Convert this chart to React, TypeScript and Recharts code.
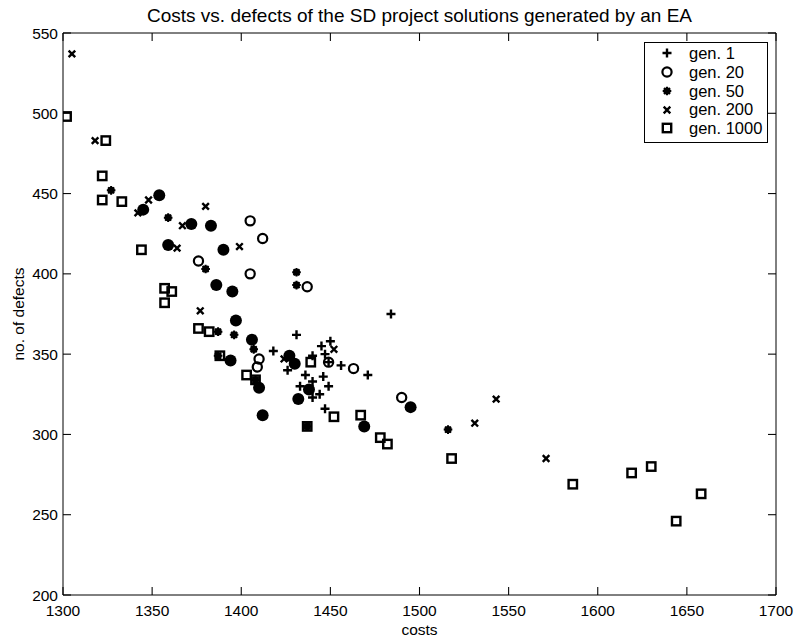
import { ScatterChart, Scatter, XAxis, YAxis, ReferenceArea } from "recharts";

const W = 797;
const H = 644;
const FONT = "'Liberation Sans', Arial, sans-serif";

const xDomain = [1300, 1700];
const yDomain = [200, 550];
const xTicks = [1300, 1350, 1400, 1450, 1500, 1550, 1600, 1650, 1700];
const yTicks = [200, 250, 300, 350, 400, 450, 500, 550];

// [costs, defects]
const gen1 = [
  [1484, 375], [1431, 362], [1418, 352], [1450, 358], [1445, 355], [1447, 350],
  [1440, 349], [1426, 340], [1436, 337], [1446, 336], [1433, 330], [1440, 333],
  [1449, 330], [1444, 325], [1440, 323], [1447, 316], [1456, 343], [1471, 337],
  [1449, 345],
];
const gen20 = [
  [1405, 433], [1412, 422], [1376, 408], [1405, 400], [1437, 392], [1410, 347],
  [1409, 342], [1449, 345], [1463, 341], [1490, 323],
];
const gen50 = [
  [1327, 452], [1359, 435], [1380, 403], [1431, 401], [1431, 393], [1387, 364],
  [1396, 362], [1407, 353], [1516, 303], [1387, 349], [1437, 305], [1408, 334],
];
// gen. 20 and gen. 50 on the same spot, shows as a filled disc
const gen20and50 = [
  [1354, 449], [1345, 440], [1372, 431], [1383, 430], [1359, 418], [1390, 415],
  [1386, 393], [1395, 389], [1397, 371], [1406, 359], [1394, 346], [1410, 329],
  [1412, 312], [1427, 349], [1430, 344], [1438, 328], [1432, 322], [1469, 305],
  [1495, 317],
];
const gen200 = [
  [1305, 537], [1318, 483], [1342, 438], [1348, 446], [1367, 430], [1380, 442],
  [1364, 416], [1399, 417], [1377, 377], [1424, 347], [1452, 353], [1543, 322],
  [1531, 307], [1571, 285],
];
const gen1000 = [
  [1302, 498], [1324, 483], [1322, 461], [1322, 446], [1333, 445], [1344, 415],
  [1357, 391], [1361, 389], [1357, 382], [1376, 366], [1382, 364], [1388, 349],
  [1403, 337], [1408, 334], [1439, 345], [1452, 311], [1437, 305], [1467, 312],
  [1478, 298], [1482, 294], [1518, 285], [1586, 269], [1619, 276], [1630, 280],
  [1644, 246], [1658, 263],
];

const pts = (a: number[][]) => a.map(([x, y]) => ({ x, y }));

// tick mark size in data units (about 8 px long, 1 px wide)
const TL_X = 4.5;
const TL_Y = 5;
const TW_X = 0.3;
const TW_Y = 0.33;

type P = { cx?: number; cy?: number };

const Plus = ({ cx = 0, cy = 0 }: P) => (
  <path d={`M${cx - 4.5},${cy}H${cx + 4.5}M${cx},${cy - 4.5}V${cy + 4.5}`} stroke="#000" strokeWidth={2.4} />
);
const Ring = ({ cx = 0, cy = 0 }: P) => (
  <circle cx={cx} cy={cy} r={4.6} fill="none" stroke="#000" strokeWidth={2.2} />
);
const Star = ({ cx = 0, cy = 0 }: P) => (
  <g stroke="#000" strokeWidth={2}>
    <path d={`M${cx - 4.3},${cy}H${cx + 4.3}M${cx},${cy - 4.3}V${cy + 4.3}`} />
    <path d={`M${cx - 3},${cy - 3}L${cx + 3},${cy + 3}M${cx - 3},${cy + 3}L${cx + 3},${cy - 3}`} />
    <circle cx={cx} cy={cy} r={2.6} fill="#000" />
  </g>
);
const Disc = ({ cx = 0, cy = 0 }: P) => <circle cx={cx} cy={cy} r={6} fill="#000" />;
const Cross = ({ cx = 0, cy = 0 }: P) => (
  <path
    d={`M${cx - 3.3},${cy - 3.3}L${cx + 3.3},${cy + 3.3}M${cx - 3.3},${cy + 3.3}L${cx + 3.3},${cy - 3.3}`}
    stroke="#000"
    strokeWidth={2.4}
  />
);
const Box = ({ cx = 0, cy = 0 }: P) => (
  <rect x={cx - 4.2} y={cy - 4.2} width={8.4} height={8.4} fill="none" stroke="#000" strokeWidth={2.4} />
);

const legendItems = [
  { name: "gen. 1", Shape: Plus },
  { name: "gen. 20", Shape: Ring },
  { name: "gen. 50", Shape: Star },
  { name: "gen. 200", Shape: Cross },
  { name: "gen. 1000", Shape: Box },
];

const LegendBox = () => (
  <div
    style={{
      position: "absolute",
      left: 644,
      top: 42,
      width: 122,
      padding: "1px 0 4px",
      border: "1px solid #000",
      background: "#fff",
      fontFamily: FONT,
      fontSize: 16.5,
      lineHeight: 1,
      color: "#000",
    }}
  >
    {legendItems.map(({ name, Shape }) => (
      <div key={name} style={{ display: "flex", alignItems: "center", height: 18.75 }}>
        <svg width={44} height={18} style={{ flex: "none" }}>
          <Shape cx={22} cy={9} />
        </svg>
        <span>{name}</span>
      </div>
    ))}
  </div>
);

const tickStyle = { fontFamily: FONT, fontSize: 15.5, fill: "#000" };

const mark = (key: string, x1: number, x2: number, y1: number, y2: number) => (
  <ReferenceArea
    key={key}
    x1={x1}
    x2={x2}
    y1={y1}
    y2={y2}
    ifOverflow="visible"
    fill="#000"
    fillOpacity={1}
    stroke="none"
  />
);

export default function App() {
  return (
    <div style={{ position: "absolute", left: 0, top: 0, width: W, height: H, background: "#fff" }}>
      <div
        style={{
          position: "absolute",
          left: 63,
          width: 713,
          top: 6,
          textAlign: "center",
          fontFamily: FONT,
          fontSize: 19,
          lineHeight: 1,
          color: "#000",
          whiteSpace: "nowrap",
        }}
      >
        Costs vs. defects of the SD project solutions generated by an EA
      </div>
      <ScatterChart width={W} height={H} margin={{ top: 33, right: 21, bottom: 0, left: 0 }}>
        <XAxis
          dataKey="x"
          type="number"
          domain={xDomain}
          ticks={xTicks}
          interval={0}
          allowDataOverflow
          height={49}
          tick={tickStyle}
          axisLine={false}
          tickLine={false}
          tickSize={0}
          tickMargin={10}
          label={({ viewBox }: any) => (
            <text
              x={viewBox.x + viewBox.width / 2}
              y={viewBox.y + 40}
              textAnchor="middle"
              style={tickStyle}
            >
              costs
            </text>
          )}
        />
        <YAxis
          dataKey="y"
          type="number"
          domain={yDomain}
          ticks={yTicks}
          interval={0}
          allowDataOverflow
          width={63}
          tick={tickStyle}
          axisLine={false}
          tickLine={false}
          tickSize={0}
          tickMargin={5}
          label={({ viewBox }: any) => {
            const x = 18;
            const y = viewBox.y + viewBox.height / 2;
            return (
              <text
                x={x}
                y={y}
                transform={`rotate(-90, ${x}, ${y})`}
                textAnchor="middle"
                dominantBaseline="central"
                style={tickStyle}
              >
                no. of defects
              </text>
            );
          }}
        />
        <ReferenceArea
          x1={xDomain[0]}
          x2={xDomain[1]}
          y1={yDomain[0]}
          y2={yDomain[1]}
          fill="none"
          fillOpacity={0}
          stroke="#000"
          strokeWidth={1}
        />
        {xTicks.map((x) => mark(`b${x}`, x - TW_X, x + TW_X, yDomain[0], yDomain[0] + TL_Y))}
        {xTicks.map((x) => mark(`t${x}`, x - TW_X, x + TW_X, yDomain[1] - TL_Y, yDomain[1]))}
        {yTicks.map((y) => mark(`l${y}`, xDomain[0], xDomain[0] + TL_X, y - TW_Y, y + TW_Y))}
        {yTicks.map((y) => mark(`r${y}`, xDomain[1] - TL_X, xDomain[1], y - TW_Y, y + TW_Y))}
        <Scatter name="gen. 1" data={pts(gen1)} shape={Plus} isAnimationActive={false} />
        <Scatter name="gen. 20" data={pts(gen20)} shape={Ring} isAnimationActive={false} />
        <Scatter name="gen. 20 + 50" data={pts(gen20and50)} shape={Disc} legendType="none" isAnimationActive={false} />
        <Scatter name="gen. 50" data={pts(gen50)} shape={Star} isAnimationActive={false} />
        <Scatter name="gen. 200" data={pts(gen200)} shape={Cross} isAnimationActive={false} />
        <Scatter name="gen. 1000" data={pts(gen1000)} shape={Box} isAnimationActive={false} />
      </ScatterChart>
      <LegendBox />
    </div>
  );
}
